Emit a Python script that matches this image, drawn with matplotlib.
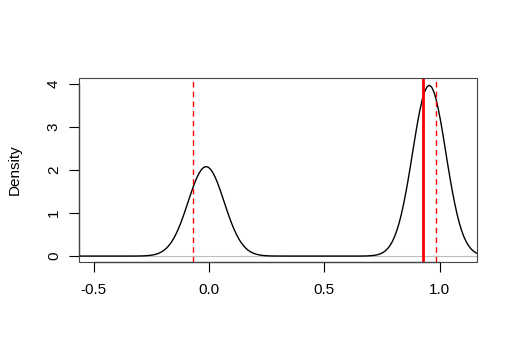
import matplotlib.pyplot as plt
from matplotlib.patches import Rectangle

plt.rcParams['font.family'] = ['Liberation Sans', 'DejaVu Sans']

# density curve (two humps)
dens_x = [-0.56, -0.45, -0.35,
          -0.312, -0.292, -0.272, -0.262, -0.252, -0.242, -0.232, -0.222, -0.212, -0.202,
          -0.192, -0.182, -0.172, -0.162, -0.152, -0.142, -0.132, -0.122, -0.112, -0.102,
          -0.092, -0.082, -0.072, -0.062, -0.052, -0.042, -0.032, -0.022, -0.012, -0.002,
          0.008, 0.018, 0.028, 0.038, 0.048, 0.058, 0.068, 0.078, 0.088, 0.098,
          0.108, 0.118, 0.128, 0.138, 0.148, 0.158, 0.168, 0.178, 0.188, 0.198,
          0.208, 0.218, 0.228, 0.238, 0.248, 0.268, 0.288,
          0.35, 0.50, 0.65,
          0.685, 0.705, 0.715, 0.725, 0.735, 0.745, 0.755, 0.765, 0.775, 0.785,
          0.795, 0.805, 0.815, 0.825, 0.835, 0.845, 0.855, 0.865, 0.875, 0.885,
          0.895, 0.905, 0.915, 0.925, 0.935, 0.945, 0.955, 0.965, 0.975, 0.985,
          0.995, 1.005, 1.015, 1.025, 1.035, 1.045, 1.055, 1.065, 1.075, 1.085,
          1.095, 1.105, 1.115, 1.125, 1.135, 1.145, 1.155, 1.165]
dens_y = [0.0, 0.0, 0.0,
          0.001, 0.003, 0.008, 0.012, 0.018, 0.027, 0.039, 0.056, 0.078, 0.107,
          0.145, 0.193, 0.254, 0.327, 0.415, 0.519, 0.637, 0.769, 0.914, 1.069,
          1.229, 1.390, 1.547, 1.694, 1.824, 1.932, 2.013, 2.063, 2.080, 2.063,
          2.013, 1.932, 1.824, 1.694, 1.547, 1.390, 1.229, 1.069, 0.914, 0.769,
          0.637, 0.519, 0.415, 0.327, 0.254, 0.193, 0.145, 0.107, 0.078, 0.056,
          0.039, 0.027, 0.018, 0.012, 0.008, 0.003, 0.001,
          0.0, 0.0, 0.0,
          0.003, 0.010, 0.015, 0.024, 0.037, 0.056, 0.084, 0.122, 0.174, 0.245,
          0.336, 0.453, 0.600, 0.778, 0.990, 1.236, 1.513, 1.817, 2.141, 2.475,
          2.805, 3.120, 3.402, 3.640, 3.820, 3.932, 3.970, 3.932, 3.820, 3.640,
          3.402, 3.120, 2.805, 2.475, 2.141, 1.817, 1.513, 1.236, 0.990, 0.778,
          0.600, 0.453, 0.336, 0.245, 0.174, 0.122, 0.084, 0.056]

dashed_lines = [-0.068, 0.985]
solid_line = 0.929

xticks = [-0.5, 0.0, 0.5, 1.0]
xlabels = ['-0.5', '0.0', '0.5', '1.0']
yticks = [0, 1, 2, 3, 4]

fig = plt.figure(figsize=(5.18, 3.61), dpi=100)
ax = fig.add_axes([0.1525, 0.274, 0.7683, 0.510])

ax.axhline(0, color='#bebebe', lw=0.8)
ax.plot(dens_x, dens_y, color='black', lw=1)
for v in dashed_lines:
    ax.axvline(v, color='red', lw=1, ls=(0, (4, 3)))
ax.axvline(solid_line, color='red', lw=2)

ax.set_xlim(-0.563, 1.162)
ax.set_ylim(-0.14, 4.14)
ax.set_xticks(xticks)
ax.set_xticklabels(xlabels)
ax.set_yticks(yticks)
ax.set_yticklabels([str(t) for t in yticks], rotation=90, va='center')
ax.tick_params(direction='out', length=7, width=0.8, labelsize=11, pad=6)
ax.tick_params(axis='x', pad=8)

# R style: box in grey, axis lines only between the outer ticks
for s in ax.spines.values():
    s.set_visible(False)
ax.spines['bottom'].set_visible(True)
ax.spines['left'].set_visible(True)
ax.spines['bottom'].set_bounds(xticks[0], xticks[-1])
ax.spines['left'].set_bounds(yticks[0], yticks[-1])
for s in ('bottom', 'left'):
    ax.spines[s].set_linewidth(0.9)
ax.add_patch(Rectangle((0, 0), 1, 1, transform=ax.transAxes, fill=False,
                       edgecolor='#444444', lw=0.8, clip_on=False, zorder=3))

ax.set_ylabel('Density', fontsize=11, labelpad=18)

fig.savefig('out.png', dpi=100)
